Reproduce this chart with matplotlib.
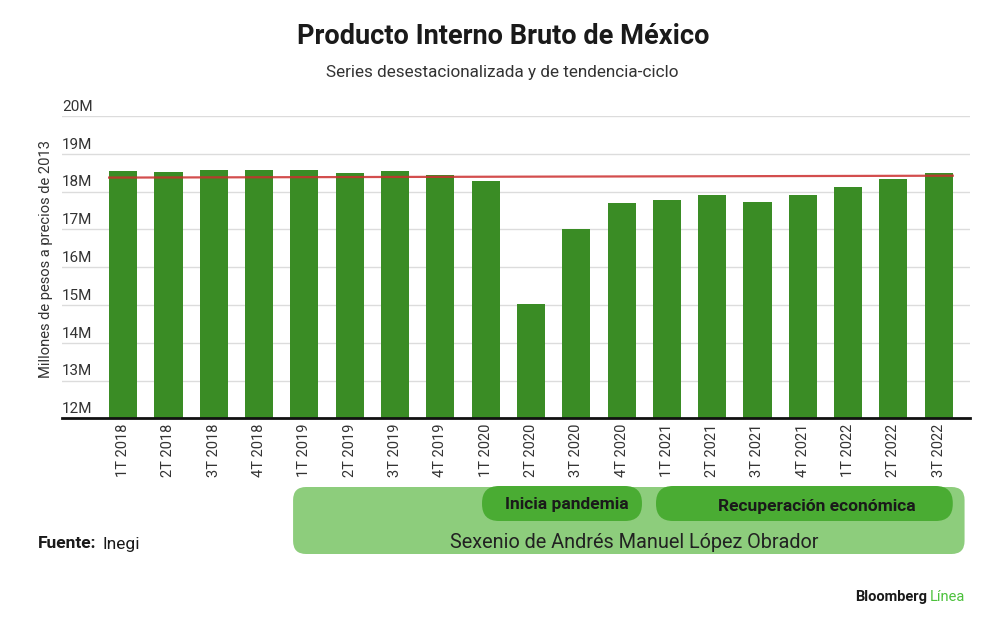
import matplotlib
matplotlib.use("Agg")
import matplotlib.pyplot as plt
from matplotlib.patches import FancyBboxPatch

plt.rcParams['font.family'] = ['Roboto', 'DejaVu Sans']

# quarters and GDP (millions of pesos at 2013 prices, in millions -> "M")
quarters = ["1T 2018", "2T 2018", "3T 2018", "4T 2018",
            "1T 2019", "2T 2019", "3T 2019", "4T 2019",
            "1T 2020", "2T 2020", "3T 2020", "4T 2020",
            "1T 2021", "2T 2021", "3T 2021", "4T 2021",
            "1T 2022", "2T 2022", "3T 2022"]
pib = [18.54, 18.51, 18.57, 18.57, 18.57, 18.48, 18.54, 18.44,
       18.28, 15.02, 17.01, 17.69, 17.79, 17.91, 17.73, 17.91,
       18.12, 18.33, 18.48]
# reference line (start / end value)
ref_line = [18.37, 18.42]
y_ticks = [12, 13, 14, 15, 16, 17, 18, 19, 20]

# annotation spans, in bar index units
sexenio_span = (3.75, 18.57)
pandemia_span = (7.92, 11.45)
recuperacion_span = (11.76, 18.31)

W, H = 1000, 631
fig = plt.figure(figsize=(W / 100, H / 100), dpi=100)
ax = fig.add_axes([0.062, 1 - 418.3 / H, 0.908, (418.3 - 116) / H])

x = list(range(len(quarters)))
ax.bar(x, pib, width=0.62, color="#3a8c25", zorder=2)
ax.plot([-0.31, len(quarters) - 1 + 0.31], ref_line, color="#cc2f2f",
        lw=1.6, alpha=0.85, zorder=3)

ax.set_ylim(12, 20)
ax.set_xlim(-1.35, 18.69)
ax.set_yticks(y_ticks)
ax.yaxis.grid(True, color="#dcdcdc", lw=1, zorder=0)
ax.tick_params(axis="y", length=0, labelleft=False)
for v in y_ticks:
    ax.annotate(f"{v}M", xy=(0, v), xycoords=ax.get_yaxis_transform(),
                xytext=(0, 1.5), textcoords="offset points",
                ha="left", va="bottom", fontsize=11, color="#333333")
for s in ["top", "right", "left"]:
    ax.spines[s].set_visible(False)
ax.spines["bottom"].set_color("#111111")
ax.spines["bottom"].set_linewidth(2)
ax.spines["bottom"].set_zorder(4)
ax.set_xticks(x)
ax.set_xticklabels(quarters, rotation=90, fontsize=10.5, color="#333333")
ax.tick_params(axis="x", length=0, pad=4)

fig.text(46 / W, 1 - 259 / H, "Millones de pesos a precios de 2013",
         rotation=90, ha="center", va="center", fontsize=10.6, color="#333333")

fig.text(0.503, 1 - 37 / H, "Producto Interno Bruto de México", ha="center",
         va="center", fontsize=19.5, fontweight="bold", color="#1a1a1a")
fig.text(0.502, 1 - 72 / H, "Series desestacionalizada y de tendencia-ciclo",
         ha="center", va="center", fontsize=12.3, color="#333333")

# overlay in pixel coordinates for the rounded boxes
ov = fig.add_axes([0, 0, 1, 1], zorder=5)
ov.set_xlim(0, W)
ov.set_ylim(H, 0)
ov.axis("off")


def px(i):
    return ax.transData.transform((i, 12))[0]


def pill(span, y0, y1, color, r):
    x0, x1 = px(span[0]), px(span[1])
    ov.add_patch(FancyBboxPatch((x0 + r, y0 + r), x1 - x0 - 2 * r, y1 - y0 - 2 * r,
                                boxstyle=f"round,pad={r},rounding_size={r}",
                                fc=color, ec="none"))
    return (x0 + x1) / 2


cx = pill(sexenio_span, 487, 554, "#8dcd7c", 13)
ov.text(634, 542, "Sexenio de Andrés Manuel López Obrador", ha="center",
        va="center", fontsize=14.3, color="#222222")
cx = pill(pandemia_span, 486, 521, "#4aac33", 17)
ov.text(cx + 5, 505, "Inicia pandemia", ha="center", va="center", fontsize=12.5,
        fontweight="bold", color="#1a1a1a")
cx = pill(recuperacion_span, 486, 521, "#4aac33", 17)
ov.text(cx + 12, 506, "Recuperación económica", ha="center", va="center",
        fontsize=12.5, fontweight="bold", color="#1a1a1a")

ov.text(38, 544, "Fuente:", ha="left", va="center", fontsize=12.5,
        fontweight="bold", color="#1a1a1a")
ov.text(102, 544, "Inegi", ha="left", va="center", fontsize=12.5, color="#1a1a1a")

ov.text(927, 597, "Bloomberg", ha="right", va="center", fontsize=10.5,
        fontweight="bold", color="#1a1a1a")
ov.text(930, 597, "Línea", ha="left", va="center", fontsize=10.5,
        color="#4cc13c")

fig.savefig("out.png", dpi=100, facecolor="white")
